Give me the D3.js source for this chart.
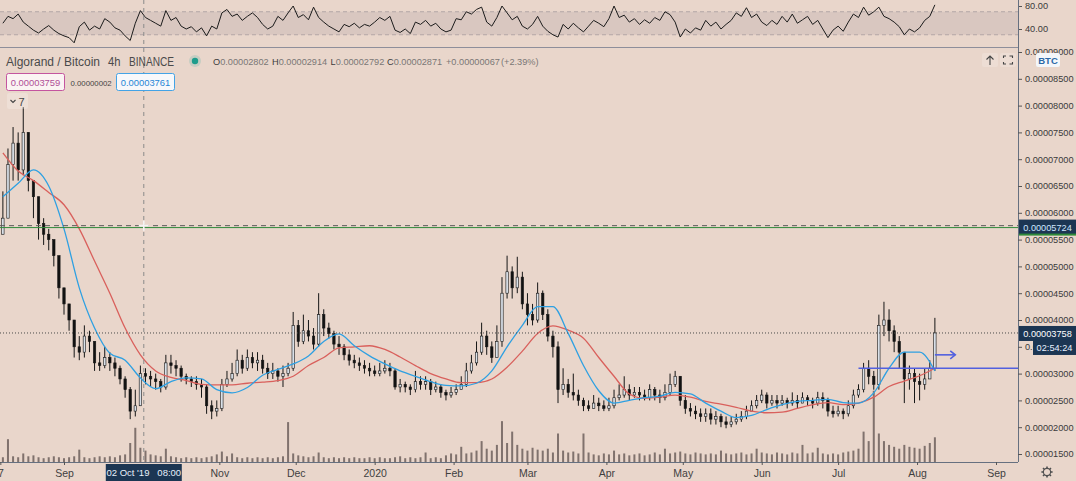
<!DOCTYPE html>
<html>
<head>
<meta charset="utf-8">
<script src="https://cdnjs.cloudflare.com/ajax/libs/d3/7.8.5/d3.min.js"></script>
<style>
  html, body { margin: 0; padding: 0; background: #e9d6cb; overflow: hidden; }
  svg { display: block; font-family: "Liberation Sans", Arial, sans-serif; }
</style>
</head>
<body>
<svg width="1076" height="481"></svg>
<script>
// ALGO/BTC 4h chart, read off the screenshot and resampled to one candle every 2 days
// prices are in satoshi (1e-8 BTC)
const candleStart = new Date(2019, 7, 8);
const candleStepDays = 2;
const firstOpen = 5600;

const closes = [5900,6900,7300,6800,7500,6600,6300,5800,5600,5500,
  5200,4600,4300,4000,3500,3400,3700,3600,3200,3150,
  3300,3200,3100,2900,2700,2300,2400,3000,2950,2900,
  2850,2750,3200,3150,3100,2950,2900,2850,2800,2750,
  2400,2300,2350,2800,2900,3000,3250,3100,3300,3200,
  3250,3100,3000,3050,2950,3000,3100,3900,3600,3800,
  3700,3550,4100,3850,3750,3550,3500,3350,3250,3200,
  3150,3100,3050,3000,3050,3100,3050,2750,2800,2750,
  2700,2850,2800,2850,2700,2750,2650,2600,2650,2700,
  2800,3050,3200,3400,3700,3500,3300,3600,4500,4900,
  4600,4800,4300,4100,4000,4500,4100,3700,3500,2700,
  2800,2650,2600,2500,2400,2350,2450,2400,2350,2400,
  2550,2600,2700,2600,2650,2600,2550,2700,2600,2550,
  2650,2800,2950,2500,2350,2300,2250,2200,2250,2150,
  2200,2100,2050,2100,2150,2200,2300,2400,2500,2600,
  2450,2500,2450,2500,2450,2500,2450,2550,2500,2450,
  2550,2500,2300,2250,2300,2250,2400,2600,2700,3100,
  2950,2800,3900,4000,3800,3600,3400,2900,3000,2850,
  2800,2900,3100,3758];

const highs = [6400,7200,7600,7500,7970,7500,6600,6000,5900,5700,
  5500,5200,4600,4300,4000,3700,3900,3800,3600,3400,
  3500,3400,3300,3150,2950,2750,2700,3150,3100,3050,
  3000,2900,3350,3350,3250,3150,3000,2950,2950,2900,
  2800,2500,2500,2900,3050,3200,3450,3350,3450,3400,
  3400,3350,3200,3200,3100,3150,3200,4150,4000,4100,
  4000,3850,4500,4200,3950,3800,3700,3550,3450,3350,
  3300,3250,3200,3150,3200,3250,3200,3100,2900,2850,
  2800,3050,2950,2950,2900,2850,2800,2700,2750,2800,
  2950,3200,3350,3600,3950,3800,3600,3900,4800,5200,
  5000,5180,4900,4500,4300,4700,4550,4200,3800,3600,
  3100,2900,3000,2700,2550,2500,2600,2550,2500,2550,
  2700,2800,2950,2800,2750,2750,2700,2800,2750,2700,
  2800,3000,3050,2950,2600,2450,2400,2350,2350,2350,
  2300,2250,2200,2200,2250,2300,2400,2500,2600,2700,
  2650,2600,2600,2600,2550,2650,2600,2650,2600,2550,
  2660,2650,2550,2400,2400,2350,2500,2700,2800,3200,
  3250,3050,4100,4340,4200,3900,3700,3400,3150,3100,
  3000,3100,3250,4040];

const lows = [5600,6000,6600,6600,6700,6400,5900,5500,5400,5300,
  5000,4400,4100,3800,3300,3250,3300,3400,3050,3050,
  3100,3050,2950,2800,2550,2150,2200,2400,2800,2750,
  2700,2650,2700,3000,2950,2850,2800,2750,2700,2550,
  2250,2150,2200,2300,2750,2850,2950,3000,3050,3100,
  3050,3000,2900,2900,2850,2750,2950,3050,3500,3550,
  3600,3450,3500,3700,3650,3450,3350,3250,3150,3100,
  3050,3000,2950,2950,2950,3000,2950,2700,2650,2650,
  2600,2650,2700,2700,2600,2650,2550,2500,2550,2600,
  2700,2750,3000,3150,3350,3350,3200,3300,3500,4400,
  4400,4500,4200,3900,3900,3950,4000,3600,3300,2450,
  2600,2550,2500,2400,2300,2300,2350,2300,2300,2300,
  2350,2500,2550,2500,2550,2500,2500,2500,2500,2450,
  2500,2600,2750,2400,2250,2200,2150,2100,2100,2050,
  2050,2000,1980,2000,2050,2100,2150,2300,2350,2450,
  2350,2400,2350,2400,2350,2400,2350,2450,2400,2350,
  2400,2350,2200,2180,2200,2150,2200,2350,2550,2650,
  2800,2700,2700,3700,3600,3400,3100,2450,2700,2450,
  2500,2700,2900,3050];

// volume, arbitrary units
const volumes = [5,24,6,5,9,6,7,5,4,5,
  6,5,4,5,6,13,5,4,5,6,
  5,6,5,7,8,20,36,15,12,8,
  7,6,14,6,5,4,5,4,5,4,
  5,6,8,11,6,9,5,4,5,4,
  5,4,5,4,5,6,42,9,7,6,
  5,6,10,5,4,5,4,5,4,5,
  4,4,5,4,5,4,4,5,6,4,
  5,4,5,10,4,5,4,7,9,8,
  16,9,10,12,22,14,12,18,43,20,
  32,18,14,12,15,13,12,14,10,30,
  12,10,11,9,30,10,8,7,9,8,
  12,8,9,7,8,9,7,8,10,8,
  14,9,10,11,9,8,10,9,8,9,
  8,12,9,8,9,10,8,9,14,10,
  9,8,10,9,8,10,9,18,9,10,
  15,9,8,9,8,10,11,12,14,32,
  22,75,30,22,18,16,14,18,16,15,
  14,17,20,26];

const rsiValues = [50,62,58,66,52,45,38,33,40,46,
  38,32,28,25,16,44,52,38,45,40,
  58,52,42,38,28,20,50,72,60,55,
  50,45,72,55,60,45,40,44,35,42,
  28,45,40,68,74,62,66,55,62,68,
  60,48,40,45,62,55,68,80,60,65,
  56,78,60,52,45,40,35,48,44,50,
  42,48,45,52,60,55,62,38,34,40,
  32,52,48,55,45,50,40,35,38,58,
  56,70,66,74,78,52,45,60,80,68,
  56,62,45,40,48,62,45,36,30,26,
  48,40,50,42,35,45,55,50,44,58,
  80,60,64,52,58,48,56,50,60,55,
  70,65,52,26,40,33,42,38,55,45,
  52,40,48,55,68,62,77,60,66,52,
  46,55,48,62,52,66,50,56,62,48,
  55,40,25,38,45,36,52,66,60,78,
  64,70,78,62,58,52,44,30,40,35,
  42,55,62,82];

// moving averages, read every 6 days
const maStart = new Date(2019, 7, 8);
const maStepDays = 6;
const blueMA = [6300,6550,6800,6500,5700,4600,3850,3380,3250,2920,
  2720,2850,2920,2900,2700,2640,2740,2970,3080,3180,
  3330,3600,3740,3520,3330,3180,3050,2950,2850,2780,
  2770,2820,3050,3500,3900,4250,4250,3750,3150,2680,
  2450,2500,2550,2580,2650,2620,2450,2300,2180,2220,
  2330,2420,2480,2500,2520,2460,2450,2640,3100,3400,
  3400,3050];
const redMA = [7120,6780,6600,6380,6150,5700,5100,4500,3850,3350,
  3050,2930,2870,2800,2790,2790,2820,2840,2870,2950,
  3150,3300,3480,3500,3520,3450,3310,3150,3000,2900,
  2830,2830,2900,3120,3420,3750,3890,3810,3660,3300,
  2950,2620,2540,2560,2600,2560,2480,2430,2370,2300,
  2270,2280,2350,2420,2460,2420,2450,2560,2760,2860,
  2960,3100];

const priceTicks = [1500,2000,2500,3000,3500,4000,4500,5000,5500,6000,6500,7000,7500,8000,8500,9000];
const rsiTicks = [80, 40];
// Oct is hidden under the crosshair date label in the original
const timeTicks = [new Date(2019,7,7)].concat(
    d3.timeMonth.range(new Date(2019,8,1), new Date(2020,8,2)).filter(d => !(d.getFullYear() === 2019 && d.getMonth() === 9)));

const lastPrice = 3758;
const greenLevel = 5724;
const rayLevel = 3100;
const rayStart = new Date(2020, 6, 9);
const arrowLevel = 3350;
const arrowFrom = new Date(2020, 7, 8);
const arrowTo = new Date(2020, 7, 16);
const crossDate = new Date(2019, 9, 2, 8);
const crossPrice = 5760;

const W = 1076, H = 481;
const plotRight = 1018;
const rsiBottom = 47;
const mainTop = 48, mainBottom = 462;
const bg = "#e9d6cb";
const navy = "#1c3653";
const axisFont = 9.2;

const svg = d3.select("svg");

// scales
const x = d3.scaleTime()
    .domain([new Date(2019, 8, 1), new Date(2020, 8, 1)])
    .range([64, 996]);
const y = d3.scaleLinear().domain([1500, 8000]).range([454, 105.6]);
const yVol = d3.scaleLinear().domain([0, 100]).range([462, 367]);
const yRsi = d3.scaleLinear().domain([40, 80]).range([29, 6]);

const candles = closes.map((c, i) => ({
    date: d3.timeDay.offset(candleStart, i * candleStepDays),
    open: i ? closes[i - 1] : firstOpen,
    close: c,
    high: highs[i],
    low: lows[i],
    vol: volumes[i],
    rsi: rsiValues[i]
}));

const maSeries = vals => vals.map((v, k) => ({ date: d3.timeDay.offset(maStart, k * maStepDays), v }));

svg.append("rect").attr("width", W).attr("height", H).attr("fill", bg);

const defs = svg.append("defs");
defs.append("clipPath").attr("id", "clipMain").append("rect")
    .attr("x", 0).attr("y", mainTop).attr("width", plotRight).attr("height", mainBottom - mainTop);
defs.append("clipPath").attr("id", "clipRsi").append("rect")
    .attr("x", 0).attr("y", 0).attr("width", plotRight).attr("height", rsiBottom);

// ---- RSI pane ----
const rsiG = svg.append("g").attr("clip-path", "url(#clipRsi)");
rsiG.append("rect")
    .attr("x", 0).attr("width", plotRight)
    .attr("y", yRsi(70)).attr("height", yRsi(30) - yRsi(70))
    .attr("fill", "rgba(115,100,120,0.13)");
[70, 30].forEach(v => {
    rsiG.append("line")
        .attr("x1", 0).attr("x2", plotRight)
        .attr("y1", yRsi(v)).attr("y2", yRsi(v))
        .attr("stroke", "#b3a6a6").attr("stroke-dasharray", "4,3");
});
rsiG.append("path")
    .datum(candles)
    .attr("d", d3.line().x(d => x(d.date)).y(d => yRsi(d.rsi)))
    .attr("fill", "none")
    .attr("stroke", "#1b1b1b")
    .attr("stroke-width", 1);

const rsiAxis = svg.append("g")
    .attr("transform", `translate(${plotRight},0)`)
    .call(d3.axisRight(yRsi).tickValues(rsiTicks).tickSize(4).tickPadding(3).tickFormat(d3.format(".2f")));
rsiAxis.select(".domain").remove();

// pane separator
svg.append("line")
    .attr("x1", 0).attr("x2", plotRight)
    .attr("y1", 47.5).attr("y2", 47.5)
    .attr("stroke", "#8e8e9a");

// ---- main pane ----
const mainG = svg.append("g").attr("clip-path", "url(#clipMain)");

// volume
mainG.append("g").selectAll("rect")
    .data(candles)
    .join("rect")
    .attr("x", d => x(d.date) - 1)
    .attr("width", 2)
    .attr("y", d => yVol(d.vol))
    .attr("height", d => yVol(0) - yVol(d.vol))
    .attr("fill", "#3a2f2f")
    .attr("opacity", 0.6);

// candles
const candle = mainG.append("g").selectAll("g")
    .data(candles)
    .join("g");

candle.append("line")
    .attr("x1", d => x(d.date)).attr("x2", d => x(d.date))
    .attr("y1", d => y(Math.max(d.high, d.open, d.close)))
    .attr("y2", d => y(Math.min(d.low, d.open, d.close)))
    .attr("stroke", "#161616")
    .attr("stroke-width", 1);

candle.append("rect")
    .attr("x", d => x(d.date) - 1.2)
    .attr("width", 2.4)
    .attr("y", d => y(Math.max(d.open, d.close)))
    .attr("height", d => Math.max(1, Math.abs(y(d.open) - y(d.close))))
    .attr("fill", d => d.close >= d.open ? "#d9e0e8" : "#121212")
    .attr("stroke", "#161616")
    .attr("stroke-width", 0.6);

// moving averages
const maLine = d3.line().x(d => x(d.date)).y(d => y(d.v)).curve(d3.curveMonotoneX);
mainG.append("path").datum(maSeries(redMA))
    .attr("d", maLine).attr("fill", "none")
    .attr("stroke", "#d9605c").attr("stroke-width", 1.3);
mainG.append("path").datum(maSeries(blueMA))
    .attr("d", maLine).attr("fill", "none")
    .attr("stroke", "#2ea0e2").attr("stroke-width", 1.3);

// horizontal levels
mainG.append("line")
    .attr("x1", 0).attr("x2", plotRight)
    .attr("y1", y(greenLevel)).attr("y2", y(greenLevel))
    .attr("stroke", "#2f8a3a").attr("stroke-width", 1);
mainG.append("line")
    .attr("x1", 0).attr("x2", plotRight)
    .attr("y1", y(lastPrice)).attr("y2", y(lastPrice))
    .attr("stroke", "#4a4a4a").attr("stroke-dasharray", "1,2");
mainG.append("line")
    .attr("x1", x(rayStart)).attr("x2", plotRight)
    .attr("y1", y(rayLevel)).attr("y2", y(rayLevel))
    .attr("stroke", "#5260df").attr("stroke-width", 1.6);

// arrow drawing
const ay = y(arrowLevel), ax2 = x(arrowTo);
mainG.append("line")
    .attr("x1", x(arrowFrom)).attr("x2", ax2)
    .attr("y1", ay).attr("y2", ay)
    .attr("stroke", "#5260df").attr("stroke-width", 1.6);
mainG.append("path")
    .attr("d", `M${ax2 - 5},${ay - 4} L${ax2},${ay} L${ax2 - 5},${ay + 4}`)
    .attr("fill", "none").attr("stroke", "#5260df").attr("stroke-width", 1.6);

// crosshair
svg.append("line")
    .attr("x1", x(crossDate)).attr("x2", x(crossDate))
    .attr("y1", 0).attr("y2", mainBottom)
    .attr("stroke", "#8a8a8a").attr("stroke-dasharray", "4,4");
mainG.append("line")
    .attr("x1", 0).attr("x2", plotRight)
    .attr("y1", y(crossPrice)).attr("y2", y(crossPrice))
    .attr("stroke", "#5a5a5a").attr("stroke-dasharray", "5,4");
const cx = x(crossDate), cy = y(crossPrice);
svg.append("path")
    .attr("d", `M${cx - 5},${cy} H${cx + 5} M${cx},${cy - 5} V${cy + 5}`)
    .attr("stroke", "#f4f4f4").attr("stroke-width", 1.6);

// ---- axes ----
svg.append("line")
    .attr("x1", plotRight + 0.5).attr("x2", plotRight + 0.5)
    .attr("y1", 0).attr("y2", mainBottom)
    .attr("stroke", "#667080");
svg.append("line")
    .attr("x1", 0).attr("x2", plotRight)
    .attr("y1", mainBottom + 0.5).attr("y2", mainBottom + 0.5)
    .attr("stroke", "#667080");

const priceAxis = svg.append("g")
    .attr("transform", `translate(${plotRight},0)`)
    .call(d3.axisRight(y).tickValues(priceTicks).tickSize(4).tickPadding(3)
        .tickFormat(v => (v / 1e8).toFixed(8)));
priceAxis.select(".domain").remove();

[priceAxis, rsiAxis].forEach(a => {
    a.selectAll("text")
        .attr("font-size", axisFont)
        .attr("fill", "#3a3a3a")
        .style("font-family", "Liberation Sans, Arial, sans-serif");
    a.selectAll("line").attr("stroke", "#555");
});

const monthFmt = d3.timeFormat("%b");
const timeAxis = svg.append("g")
    .attr("transform", `translate(0,${mainBottom})`)
    .call(d3.axisBottom(x).tickValues(timeTicks).tickSize(3).tickPadding(5)
        .tickFormat(d => d.getDate() !== 1 ? String(d.getDate()) :
            d.getMonth() === 0 ? String(d.getFullYear()) : monthFmt(d)));
timeAxis.select(".domain").remove();
timeAxis.selectAll("text")
    .attr("font-size", 10.5)
    .attr("fill", "#3f3f3f")
    .style("font-family", "Liberation Sans, Arial, sans-serif");
timeAxis.selectAll("line").attr("stroke", "#555");

// axis price labels
function axisLabel(top, left, w, text, fg) {
    svg.append("rect")
        .attr("x", left).attr("y", top).attr("width", w).attr("height", 15)
        .attr("fill", navy);
    svg.append("text")
        .attr("x", left + w / 2).attr("y", top + 11)
        .attr("text-anchor", "middle")
        .attr("font-size", axisFont).attr("fill", fg)
        .text(text);
}
axisLabel(y(greenLevel) - 8, plotRight + 1, 57, (greenLevel / 1e8).toFixed(8), "#cfe6ff");
svg.append("rect")
    .attr("x", plotRight + 1).attr("y", y(greenLevel) + 6).attr("width", 57).attr("height", 2)
    .attr("fill", "#2f8a3a");
axisLabel(y(lastPrice) - 7, plotRight + 1, 57, (lastPrice / 1e8).toFixed(8), "#ffffff");
axisLabel(y(lastPrice) + 7, plotRight + 15, 43, "02:54:24", "#e8f1ff");

// crosshair time label
const tbW = 76;
svg.append("rect")
    .attr("x", x(crossDate) - tbW / 2).attr("y", 464).attr("width", tbW).attr("height", 17)
    .attr("fill", navy);
svg.append("text")
    .attr("x", x(crossDate)).attr("y", 476)
    .attr("text-anchor", "middle")
    .attr("font-size", 9.5).attr("fill", "#e8f0fa")
    .attr("xml:space", "preserve")
    .text("02 Oct '19   08:00");

// ---- header ----
const head = svg.append("g").attr("fill", "#4a4a4a").attr("font-size", 12);
[["Algorand / Bitcoin", 6, 94], ["4h", 108, 12.5], ["BINANCE", 129, 45]].forEach(([t, px, tl]) => {
    head.append("text").attr("x", px).attr("y", 65.5)
        .attr("textLength", tl).attr("lengthAdjust", "spacingAndGlyphs").text(t);
});
svg.append("circle").attr("cx", 195).attr("cy", 61).attr("r", 6).attr("fill", "rgba(38,166,154,0.18)");
svg.append("circle").attr("cx", 195).attr("cy", 61).attr("r", 3.2).attr("fill", "#1e9c8c");

const ohlc = [["O", "0.00002802", 213], ["H", "0.00002914", 272], ["L", "0.00002792", 330.6],
    ["C", "0.00002871", 387], ["", "+0.00000067", 446], ["", "(+2.39%)", 501]];
ohlc.forEach(([k, v, px]) => {
    const t = svg.append("text").attr("x", px).attr("y", 64.5).attr("font-size", 9.2);
    if (k) t.append("tspan").attr("fill", "#3c3c3c").text(k);
    t.append("tspan").attr("fill", "#7a7676").text(v);
});

// indicator value boxes
svg.append("rect").attr("x", 6.5).attr("y", 73.5).attr("width", 58).attr("height", 17).attr("rx", 2)
    .attr("fill", "#fbf4f3").attr("stroke", "#c4559f");
svg.append("text").attr("x", 35.5).attr("y", 85.5).attr("text-anchor", "middle")
    .attr("font-size", 9.4).attr("fill", "#b04f97").text("0.00003759");
svg.append("text").attr("x", 70.5).attr("y", 85.5).attr("font-size", 7.8).attr("fill", "#444")
    .text("0.00000002");
svg.append("rect").attr("x", 116.5).attr("y", 73.5).attr("width", 58).attr("height", 17).attr("rx", 2)
    .attr("fill", "#f7f8fb").attr("stroke", "#43a3e6");
svg.append("text").attr("x", 145.5).attr("y", 85.5).attr("text-anchor", "middle")
    .attr("font-size", 9.4).attr("fill", "#1f86d6").text("0.00003761");

// collapse toggle
svg.append("rect").attr("x", 7).attr("y", 93).attr("width", 21).attr("height", 16).attr("rx", 2)
    .attr("fill", "rgba(255,255,255,0.22)");
svg.append("path").attr("d", "M10.5,100 L13,102.5 L15.5,100").attr("fill", "none")
    .attr("stroke", "#444").attr("stroke-width", 1.1);
svg.append("text").attr("x", 18.5).attr("y", 105.5).attr("font-size", 11).attr("fill", "#444").text("7");

// top right controls
svg.append("rect").attr("x", 982).attr("y", 53).attr("width", 16).attr("height", 14).attr("rx", 2)
    .attr("fill", "rgba(255,255,255,0.18)");
svg.append("path").attr("d", "M990,65 V56 M986.5,59.5 L990,56 L993.5,59.5").attr("fill", "none")
    .attr("stroke", "#444").attr("stroke-width", 1.1);
svg.append("rect").attr("x", 1000).attr("y", 53).attr("width", 16).attr("height", 14).attr("rx", 2)
    .attr("fill", "rgba(255,255,255,0.18)");
svg.append("path")
    .attr("d", "M1003.5,58 V56 H1006 M1009.5,56 H1012.5 V58 M1012.5,62 V64 H1009.5 M1006,64 H1003.5 V62")
    .attr("fill", "none").attr("stroke", "#444").attr("stroke-width", 1.1);
svg.append("rect").attr("x", 1036).attr("y", 53).attr("width", 24).attr("height", 14).attr("rx", 2)
    .attr("fill", "#f3f6fa");
svg.append("text").attr("x", 1048).attr("y", 63.5).attr("text-anchor", "middle")
    .attr("font-size", 9.5).attr("font-weight", "bold").attr("fill", "#2a67a6").text("BTC");

// settings gear
const gear = svg.append("g").attr("transform", "translate(1047,472)")
    .attr("stroke", "#505050").attr("fill", "none").attr("stroke-width", 1.1);
gear.append("circle").attr("r", 3.6);
d3.range(8).forEach(k => {
    const a = k * Math.PI / 4;
    gear.append("line")
        .attr("x1", Math.cos(a) * 3.6).attr("y1", Math.sin(a) * 3.6)
        .attr("x2", Math.cos(a) * 5.6).attr("y2", Math.sin(a) * 5.6)
        .attr("stroke-width", 1.6);
});
</script>
</body>
</html>
